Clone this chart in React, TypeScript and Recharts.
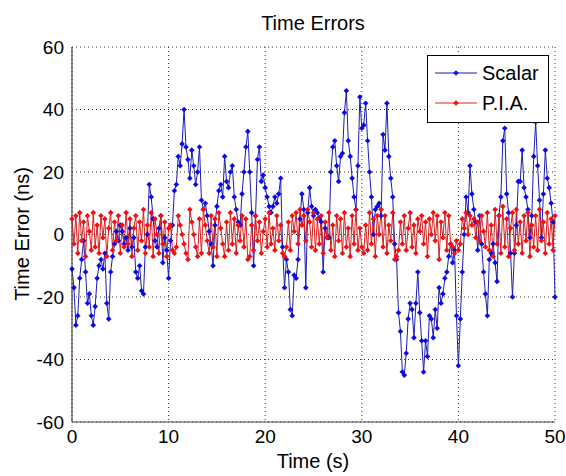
import React from 'react';
import { LineChart, Line, XAxis, YAxis, CartesianGrid } from 'recharts';

const TIME_STEP = 0.2;

const SCALAR = [
  -11, -17, -29, -26, -14,
  -8, -2, -12, -22, -19,
  -26, -29, -23, -14, -10,
  -8, -11, -6, -22, -27,
  -12, -7, -3, 1, -2,
  3, 1, -3, -1, -5,
  2, -4, -1, -12, -14,
  -10, -18, -19, -4, 0,
  16, 12, 5, -2, -4,
  2, 6, -9, -1, -5,
  -14, -2, 3, 14, 16,
  25, 22, 29, 40, 28,
  24, 18, 27, 22, 16,
  20, 28, 11, 8, 10,
  6, 1, -3, -10, 3,
  9, 14, 16, 12, 25,
  17, 15, 20, 22, 12,
  8, 4, 3, 13, 20,
  28, 33, 20, 7, -10,
  6, 24, 28, 17, 19,
  15, 12, 9, 7, 9,
  12, 10, 13, 18, -4,
  -17, -8, -12, -24, -26,
  -13, -14, -8, 5, 13,
  8, -17, 7, 15, 9,
  6, 8, 7, 5, 4,
  -12, 2, -1, -1, 20,
  28, 30, 22, 17, 25,
  26, 39, 46, 30, 25,
  18, 12, 8, 22, 44,
  34, 35, 42, 30, 20,
  12, 0, 8, 9, 10,
  6, 32, 27, 42, 25,
  18, 12, -3, -8, -25,
  -31, -44, -45, -38, -27,
  -22, -24, -33, -22, -12,
  -25, -34, -44, -34, -39,
  -26, -27, -33, -24, -30,
  -17, -22, -19, -14, -12,
  -7, -3, -9, -5, -26,
  -42, -27, -12, 0, 12,
  7, 22, 13, 8, 4,
  -5, 6, -3, -12, -19,
  -26, -8, -6, -3, -9,
  -15, 6, 12, 30, 34,
  13, 7, -6, -20, -6,
  3, 17, 17, 27, 15,
  12, 8, -1, 6, 25,
  36, 22, 11, -1, 13,
  27, 18, 15, 10, 4,
  -20,
];

const PIA = [
  5, -3, 6, -6, 7,
  -2, 4, -7, 6, 1,
  -5, 7, -4, 3, -6,
  6, -1, 5, -7, 2,
  7, -5, 4, -2, 6,
  -6, 3, -4, 7, -3,
  5, -7, 2, 6, -5,
  4, -2, 8, -6, 3,
  -4, 7, -7, 5, 0,
  -6, 6, -3, 4, -7,
  2, 3, -5, -6, -4,
  6, 3, 0, -3, -6,
  -8, 8, 4, 0, -4,
  -7, 5, -6, 8, 3,
  -2, -6, 6, -4, 5,
  -7, 7, 2, -3, -7,
  4, -5, 7, -3, 5,
  -6, 3, -2, 6, -4,
  5, -8, -7, 3, -5,
  6, -2, 4, -6, 1,
  5, -4, 7, -3, 2,
  -5, 6, -2, 3, -6,
  -7, -4, 4, -5, 6,
  1, 7, -3, 8, 3,
  6, -2, 8, 4, -4,
  7, -5, 5, -3, 6,
  -6, 4, -1, 7, -5,
  3, -7, 6, -2, 5,
  -6, 7, -4, 2, -7,
  6, -3, 8, -5, 2,
  -4, -6, 3, -5, 7,
  -3, 5, -7, 6, 0,
  8, -4, 6, -6, 3,
  -2, 7, -8, -7, -5,
  4, -3, 6, -5, 2,
  7, -4, 3, -6, 5,
  1, 6, -3, 4, -7,
  5, 0, 7, -2, 6,
  -8, 4, -1, 7, -5,
  6, -3, -4, -6, -2,
  -5, -3, 5, 2, 7,
  0, 6, 3, 5, -1,
  4, -2, 6, 1, -4,
  7, -5, 3, -7, 8,
  -3, 6, -6, 9, -4,
  5, -7, 2, 7, -5,
  8, -3, 4, -6, 6,
  -2, 7, -7, 3, -4,
  6, -5, 8, -2, 4,
  -6, 7, -3, 5, -5,
  6,
];

const X_TICKS = [0, 10, 20, 30, 40, 50];
const Y_TICKS = [-60, -40, -20, 0, 20, 40, 60];
const SERIES_NAMES = ['Scalar', 'P.I.A.'];

const BLUE_LINE = '#1c1cb0';
const BLUE_MARK = '#0a0ae6';
const RED_LINE = '#d82020';
const RED_MARK = '#f01010';
const FONT = '"Liberation Sans", Arial, Helvetica, sans-serif';

const data = SCALAR.map((v, i) => ({
  t: Math.round(i * TIME_STEP * 10) / 10,
  scalar: v,
  pia: PIA[i],
}));

const makeDiamond = (color: string) => (props: any) => {
  const { cx, cy, index } = props;
  if (cx == null || cy == null) return <g key={index} />;
  const s = 2.8;
  return (
    <path
      key={index}
      d={`M${cx},${cy - s}L${cx + s},${cy}L${cx},${cy + s}L${cx - s},${cy}Z`}
      fill={color}
      stroke="none"
    />
  );
};

const BlueDot = makeDiamond(BLUE_MARK);
const RedDot = makeDiamond(RED_MARK);

const LegendBox = () => (
  <svg width={122} height={68} style={{ display: 'block' }}>
    <rect x={0.5} y={0.5} width={121} height={67} fill="#fff" stroke="#000" strokeWidth={1} />
    {[
      [BLUE_LINE, BLUE_MARK],
      [RED_LINE, RED_MARK],
    ].map(([lc, mc], i) => {
      const y = 18 + i * 30;
      const s = 2.8;
      return (
        <g key={i}>
          <line x1={8} x2={50} y1={y} y2={y} stroke={lc} strokeWidth={1} />
          <path d={`M29,${y - s}L${29 + s},${y}L29,${y + s}L${29 - s},${y}Z`} fill={mc} />
          <text x={55} y={y + 7} fontSize={20} fontFamily={FONT} fill="#000">
            {SERIES_NAMES[i]}
          </text>
        </g>
      );
    })}
  </svg>
);

export default function App() {
  return (
    <div
      style={{
        position: 'absolute',
        left: 0,
        top: 0,
        width: 566,
        height: 476,
        background: '#fff',
        overflow: 'hidden',
        fontFamily: FONT,
      }}
    >
      <LineChart
        width={566}
        height={476}
        data={data}
        margin={{ top: 47, right: 11, bottom: 0, left: 0 }}
      >
        <CartesianGrid stroke="#333" strokeDasharray="1 3" strokeWidth={1} />
        <XAxis
          dataKey="t"
          type="number"
          domain={[0, 50]}
          ticks={X_TICKS}
          height={54}
          tickLine={false}
          axisLine={{ stroke: '#444', strokeWidth: 1.2 }}
          tick={{ fill: '#000', fontSize: 19, fontFamily: FONT }}
          interval={0}
        />
        <YAxis
          type="number"
          domain={[-60, 60]}
          ticks={Y_TICKS}
          width={72}
          tickLine={false}
          axisLine={{ stroke: '#444', strokeWidth: 1.2 }}
          tick={{ fill: '#000', fontSize: 19, fontFamily: FONT }}
          interval={0}
        />
        <Line
          type="linear"
          dataKey="scalar"
          name={SERIES_NAMES[0]}
          stroke={BLUE_LINE}
          strokeWidth={1}
          dot={BlueDot}
          activeDot={false}
          isAnimationActive={false}
        />
        <Line
          type="linear"
          dataKey="pia"
          name={SERIES_NAMES[1]}
          stroke={RED_LINE}
          strokeWidth={1}
          dot={RedDot}
          activeDot={false}
          isAnimationActive={false}
        />
      </LineChart>
      <div style={{ position: 'absolute', left: 427, top: 55 }}>
        <LegendBox />
      </div>
      <div
        style={{
          position: 'absolute',
          left: 163,
          width: 300,
          top: 12,
          textAlign: 'center',
          fontSize: 20,
          color: '#000',
        }}
      >
        Time Errors
      </div>
      <div
        style={{
          position: 'absolute',
          left: 163,
          width: 300,
          top: 450,
          textAlign: 'center',
          fontSize: 20,
          color: '#000',
        }}
      >
        Time (s)
      </div>
      <div
        style={{
          position: 'absolute',
          left: -78,
          top: 222,
          width: 200,
          height: 24,
          lineHeight: '24px',
          textAlign: 'center',
          fontSize: 20,
          color: '#000',
          transform: 'rotate(-90deg)',
          transformOrigin: '100px 12px',
        }}
      >
        Time Error (ns)
      </div>
    </div>
  );
}
